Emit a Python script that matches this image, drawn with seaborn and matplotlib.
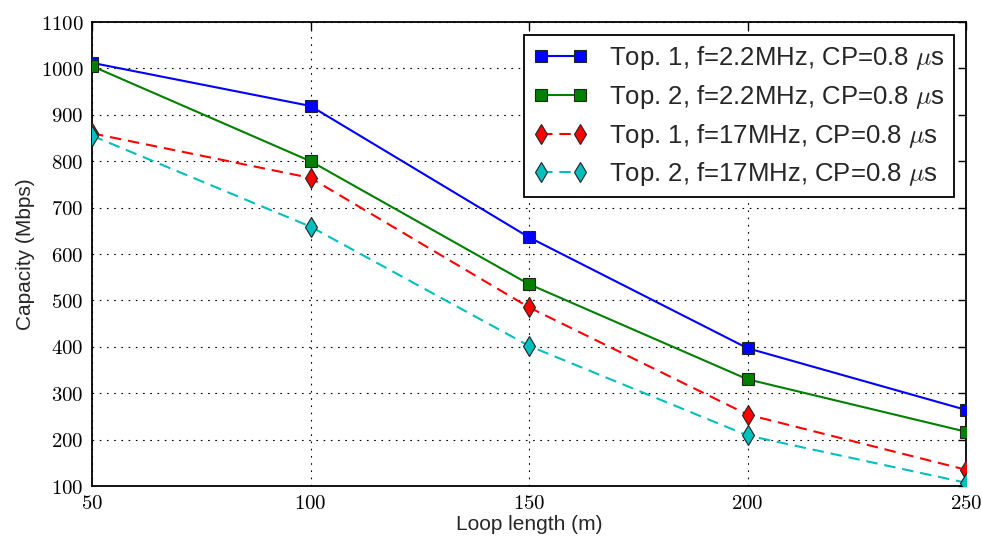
import matplotlib
matplotlib.use("Agg")
import matplotlib.pyplot as plt
import seaborn as sns
import pandas as pd
from matplotlib.ticker import FuncFormatter, MultipleLocator

loop_length = [50, 100, 150, 200, 250]
top1_22 = [1012, 919, 636, 397, 264]
top2_22 = [1005, 800, 535, 330, 217]
top1_17 = [860, 764, 485, 254, 135]
top2_17 = [855, 659, 402, 209, 107]
labels = [r"Top. 1, f=2.2MHz, CP=0.8 $\mu$s",
          r"Top. 2, f=2.2MHz, CP=0.8 $\mu$s",
          r"Top. 1, f=17MHz, CP=0.8 $\mu$s",
          r"Top. 2, f=17MHz, CP=0.8 $\mu$s"]
series = [top1_22, top2_22, top1_17, top2_17]

sns.set_style("white")
plt.rcParams['font.family'] = ['Liberation Sans', 'DejaVu Sans']
plt.rcParams['mathtext.fontset'] = 'cm'

fig = plt.figure(figsize=(9.82, 5.4), dpi=100)
ax = fig.add_axes([92/982, 54/540, (966-92)/982, 464/540])

colors = ['#0000ff', '#008000', '#ff0000', '#00bfbf']
markers = ['s', 's', 'd', 'd']
styles = ['-', '-', (0, (5.5, 3.3)), (0, (5.5, 3.3))]
msizes = [8, 8, 10.5, 10.5]

for s, lab, c, m, ls, ms in zip(series, labels, colors, markers, styles, msizes):
    df = pd.DataFrame({'x': loop_length, 'y': s})
    sns.lineplot(data=df, x='x', y='y', ax=ax, color=c, marker=m, linestyle=ls,
                 markersize=ms, markeredgecolor='#222222', markeredgewidth=0.8,
                 linewidth=1.5, label=lab, zorder=3)

ax.set_xlim(50, 250)
ax.set_ylim(100, 1100)
ax.xaxis.set_major_locator(MultipleLocator(50))
ax.yaxis.set_major_locator(MultipleLocator(100))
fmt = FuncFormatter(lambda v, p: r"$%d$" % v)
ax.xaxis.set_major_formatter(fmt)
ax.yaxis.set_major_formatter(fmt)
ax.tick_params(direction='in', length=6, width=1, top=True, right=True,
               labelsize=15, pad=6, colors='black')
ax.grid(True, linestyle=(0, (1.5, 5)), color='black', linewidth=0.8)
for sp in ax.spines.values():
    sp.set_color('black')
    sp.set_linewidth(1.3)
ax.set_xlabel("Loop length (m)", fontsize=15, labelpad=1)
ax.set_ylabel("Capacity (Mbps)", fontsize=15, labelpad=4)

leg = ax.legend(loc='upper right', fontsize=18.5, frameon=True, fancybox=False,
                edgecolor='black', framealpha=1, borderpad=0.35, labelspacing=0.42,
                handlelength=2.1, handletextpad=0.85, numpoints=2,
                borderaxespad=0, bbox_to_anchor=((954-92)/874, (486-35)/464))
leg.get_frame().set_linewidth(1.3)

fig.savefig("out.png", dpi=100)
